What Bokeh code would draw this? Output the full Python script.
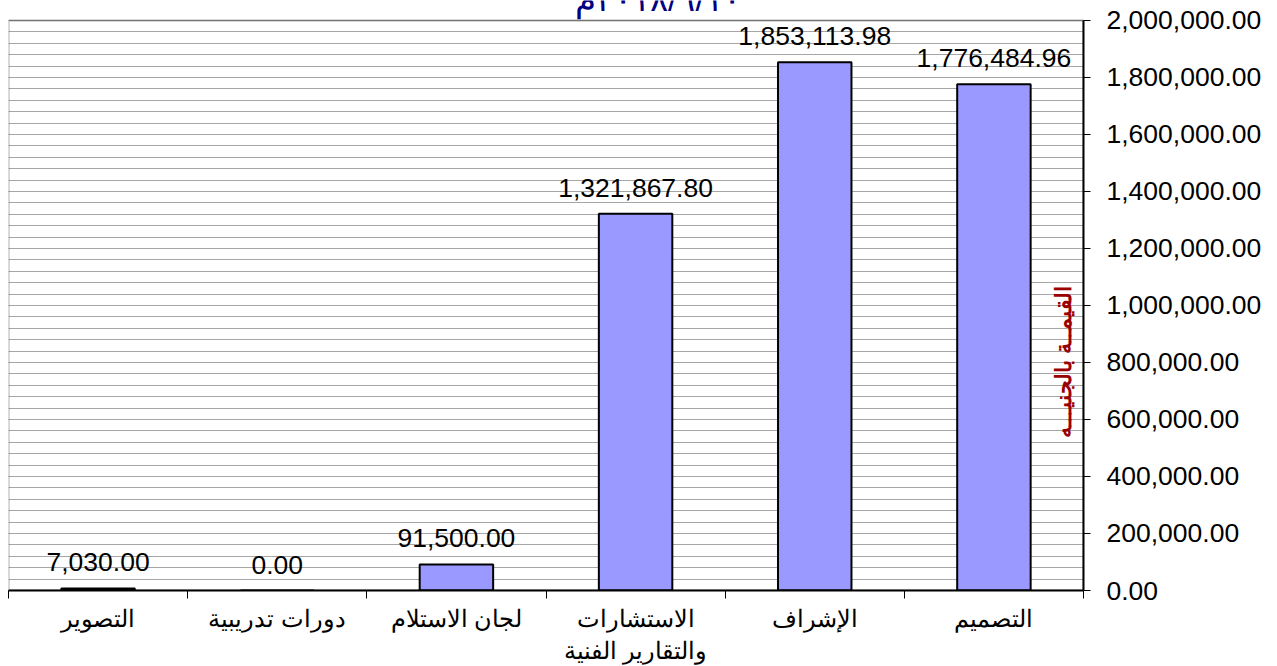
import math
from bokeh.plotting import figure
from bokeh.models import (Range1d, FixedTicker, NumeralTickFormatter, Label,
                          ColumnDataSource, BoxAnnotation)
from bokeh.core.properties import value
from bokeh.embed import file_html
from bokeh.resources import INLINE

# ---- data ----
categories = ["التصوير", "دورات تدريبية", "لجان الاستلام",
              "الاستشارات\nوالتقارير الفنية", "الإشراف", "التصميم"]
values = [7030.00, 0.00, 91500.00, 1321867.80, 1853113.98, 1776484.96]
y_max = 2000000
y_ticks = list(range(0, 2000001, 200000))
y_minor_ticks = list(range(0, 2000001, 40000))
title_text = "\u202Dم٢٠١٨/٦/١٠\u202C"
y_title = "القيمــة بالجنيـــه"

FONT = "Liberation Sans"

FRAME_PX = 571      # pixel height of the value area (0 .. y_max)
TOP_PAD_PX = 20     # space above the value area used by the cut-off title

xs = [i + 0.5 for i in range(len(categories))]
labels = [f"{v:,.2f}" for v in values]
src = ColumnDataSource(dict(x=xs, top=values, label=labels))

y_end = y_max * (1 + TOP_PAD_PX / FRAME_PX)

p = figure(width=1277, height=666, output_backend="svg", toolbar_location=None,
           x_range=Range1d(0, len(categories)), y_range=Range1d(0, y_end),
           y_axis_location="right",
           min_border_left=8, min_border_right=194,
           min_border_top=0, min_border_bottom=75)
p.background_fill_color = "white"
p.border_fill_color = "white"
p.outline_line_color = None

# bars
p.vbar(x="x", top="top", width=0.41, source=src,
       fill_color="#9999FF", line_color="black", line_width=2)

# value labels
p.text(x="x", y="top", text="label", source=src,
       text_align="center", text_baseline="alphabetic", y_offset=-26,
       text_font=value(FONT), text_font_size="26.5px", text_color="black")

# y axis (right)
ya = p.yaxis[0]
ya.ticker = FixedTicker(ticks=y_ticks, minor_ticks=y_minor_ticks)
ya.bounds = (0, y_max)
ya.formatter = NumeralTickFormatter(format="0,0.00")
ya.major_label_text_font = FONT
ya.major_label_text_font_size = "26.5px"
ya.major_label_text_color = "black"
ya.major_tick_out = 7
ya.major_tick_in = 0
ya.minor_tick_out = 0
ya.minor_tick_in = 0
ya.axis_line_color = "black"
ya.axis_line_width = 2
ya.major_tick_line_color = "black"
ya.major_tick_line_width = 1
ya.major_label_standoff = 16

# x axis (bottom)
xa = p.xaxis[0]
xa.ticker = FixedTicker(ticks=xs, minor_ticks=list(range(len(categories) + 1)))
xa.major_label_overrides = {x: c for x, c in zip(xs, categories)}
xa.major_label_text_font = FONT
xa.major_label_text_font_size = "24px"
xa.major_label_text_color = "black"
xa.major_tick_out = 0
xa.major_tick_in = 0
xa.minor_tick_out = 8
xa.minor_tick_in = 0
xa.minor_tick_line_color = "black"
xa.minor_tick_line_width = 1
xa.axis_line_color = "black"
xa.axis_line_width = 2
xa.major_label_standoff = 6

# grid
p.xgrid.visible = False
p.ygrid.grid_line_color = "#a6a6a6"
p.ygrid.grid_line_width = 1
p.ygrid.minor_grid_line_color = "#a6a6a6"
p.ygrid.minor_grid_line_width = 1

# plot-area border
p.add_layout(BoxAnnotation(left=0, right=len(categories), bottom=0, top=y_max,
                           fill_color=None, line_color="black", line_width=2))

# y axis title inside plot (rotated)
p.add_layout(Label(x=5.89, y=802000, text=y_title, angle=math.pi / 2,
                   text_align="center", text_baseline="middle",
                   text_font=FONT, text_font_size="22px",
                   text_font_style="bold", text_color="#990000"))

# title (partially cut at the top of the page)
p.add_layout(Label(x=3.625, y=y_max * 1.0385, text=title_text,
                   text_align="center", text_baseline="alphabetic",
                   text_font=FONT, text_font_size="34px",
                   text_color="#000080"))

with open("out.html", "w", encoding="utf-8") as f:
    f.write(file_html(p, INLINE))
